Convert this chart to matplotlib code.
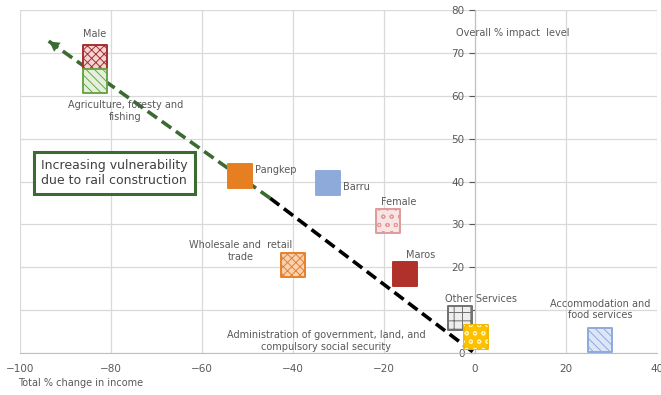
import matplotlib
matplotlib.use('Agg')
import matplotlib.pyplot as plt

plt.rcParams['font.family'] = ['DejaVu Sans']
plt.rcParams['hatch.linewidth'] = 0.7

# income change (x) vs overall impact level (y)
names = ['Male', 'Agriculture, foresty and\nfishing', 'Pangkep', 'Barru', 'Female',
         'Maros', 'Wholesale and  retail\ntrade', 'Other Services',
         'Administration of government, land, and\ncompulsory social security',
         'Accommodation and\nfood services']
income = [-83.5, -83.5, -51.6, -32.3, -19.1, -15.3, -39.9, -3.3, 0.2, 27.5]
impact = [69.0, 63.5, 41.3, 39.6, 30.8, 18.5, 20.5, 8.2, 3.8, 3.0]

faces = ['#f4d3d3', '#e4f0dc', '#e67e22', '#8eaadb', '#f8e4e4',
         '#b0302a', '#f9d2b4', '#eeeeee', '#ffc000', '#dde6f6']
edges = ['#a63030', '#6aa646', '#e67e22', '#8eaadb', '#e09a9a',
         '#b0302a', '#e8802a', '#707070', '#f2b800', '#8eaadb']
hatches = ['xxxx', '\\\\\\\\', None, None, 'oo',
           None, 'xxxx', '++', None, '\\\\\\\\']

# label offsets in points (dx, dy) and alignment
lbl_pos = [(0, 13, 'center', 'bottom'), (22, -14, 'center', 'top'),
           (11, 4, 'left', 'center'), (11, -3, 'left', 'center'),
           (8, 10, 'center', 'bottom'), (11, 10, 'center', 'bottom'),
           (-38, 10, 'center', 'center'), (15, 10, 'center', 'bottom'),
           (-108, -3, 'center', 'center'), (0, 22, 'center', 'center')]

# trend line from the origin towards high impact / income loss
trend_x = [-0.5, -45.0, -94.0]
trend_y = [0.3, 36.1, 73.0]

fig = plt.figure(figsize=(6.61, 3.95), dpi=100)
ax = fig.add_axes([0.030, 0.1063, 0.964, 0.8684])

ax.set_xlim(-100, 40)
ax.set_ylim(0, 80)
ax.set_xticks(range(-100, 41, 20))
ax.set_yticks(range(0, 81, 10))
ax.grid(True, color='#d9d9d9', lw=0.9)
ax.set_axisbelow(True)
for s in ['top', 'right']:
    ax.spines[s].set_visible(False)
ax.spines['left'].set_position(('data', 0))
ax.spines['left'].set_color('#bfbfbf')
ax.spines['bottom'].set_color('#bfbfbf')
ax.tick_params(colors='#595959', labelsize=7.5, length=4, width=0.8)
ax.tick_params(axis='x', length=0, pad=8)

# dashed trend: black part near origin, green part with arrow head
ax.plot(trend_x[:2], trend_y[:2], color='black', lw=2.6, dashes=(3.2, 1.6), zorder=2)
ax.plot(trend_x[1:], trend_y[1:], color='#3b6b33', lw=2.6, dashes=(3.2, 1.6), zorder=2)
ax.annotate('', xy=(trend_x[2], trend_y[2]), xytext=(trend_x[2] + 3.2, trend_y[2] - 2.4),
            arrowprops=dict(arrowstyle='-|>,head_length=0.7,head_width=0.4',
                            color='#3b6b33', lw=0), zorder=3)

for i in range(len(names)):
    ax.scatter(income[i], impact[i], s=300, marker='s', facecolor=faces[i],
               edgecolor=edges[i], linewidth=1.4, hatch=hatches[i], zorder=3)
    dx, dy, ha, va = lbl_pos[i]
    ax.annotate(names[i], (income[i], impact[i]), xytext=(dx, dy),
                textcoords='offset points', ha=ha, va=va, fontsize=7,
                color='#595959', linespacing=1.2, zorder=4)

# white dot pattern on the yellow marker
ax.scatter(income[8], impact[8], s=300, marker='s', facecolor='none',
           edgecolor='#fff3b0', linewidth=0, hatch='oo', zorder=3)

fig.text(456 / 661, 1 - 33 / 395, 'Overall % impact  level',
         fontsize=7, color='#595959', va='center', ha='left')
fig.text(18 / 661, 1 - 383 / 395, 'Total % change in income', fontsize=7,
         color='#595959', va='center', ha='left')

ax.text(-95.3, 42.0, 'Increasing vulnerability\ndue to rail construction',
        fontsize=9, color='#404040', ha='left', va='center', linespacing=1.2,
        bbox=dict(boxstyle='square,pad=0.55', facecolor='white',
                  edgecolor='#3b6b33', lw=2.2), zorder=5)

fig.savefig('out.png', dpi=100)
